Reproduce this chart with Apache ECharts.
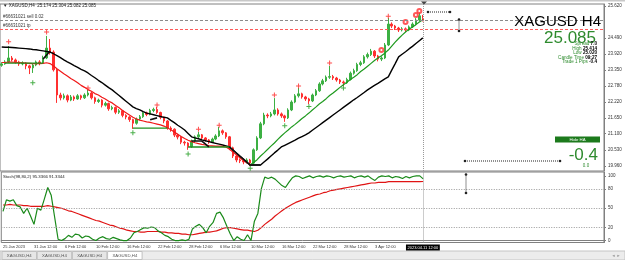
<!DOCTYPE html>
<html>
<head>
<meta charset="utf-8">
<script src="https://cdn.jsdelivr.net/npm/echarts/dist/echarts.min.js"></script>
</head>
<body style="margin:0;background:#fff">
<div id="container" style="width:625px;height:260px;"></div>
<script type="text/javascript">
// Heiken Ashi candles, one row per bar: [open, close, low, high]
var candles = [
 [23.52,23.57,23.47,23.63],[23.57,23.64,23.54,23.70],[23.64,23.78,23.60,24.20],[23.78,23.71,23.66,23.85],
 [23.71,23.64,23.58,23.76],[23.64,23.57,23.50,23.68],[23.57,23.60,23.52,23.66],[23.60,23.50,23.38,23.63],
 [23.50,23.43,23.21,23.54],[23.43,23.53,23.25,23.58],[23.53,23.64,23.49,23.69],[23.64,23.60,23.52,23.70],
 [23.60,23.78,23.57,23.86],[23.78,24.13,23.74,24.56],[24.13,23.99,23.90,24.45],[23.99,23.36,23.30,24.05],
 [23.36,22.47,22.19,23.40],[22.47,22.37,22.28,22.55],[22.37,22.44,22.31,22.52],[22.44,22.29,22.21,22.49],
 [22.29,22.40,22.25,22.47],[22.40,22.33,22.26,22.45],[22.33,22.44,22.30,22.50],[22.44,22.37,22.30,22.48],
 [22.37,22.47,22.33,22.53],[22.47,22.54,22.42,22.65],[22.54,22.37,22.31,22.58],[22.37,22.24,22.16,22.41],
 [22.24,22.29,22.19,22.34],[22.29,22.11,22.03,22.32],[22.11,22.17,22.06,22.23],[22.17,21.98,21.91,22.20],
 [21.98,22.03,21.93,22.09],[22.03,21.86,21.79,22.06],[21.86,21.91,21.80,21.97],[21.91,21.75,21.68,21.94],
 [21.75,21.69,21.61,21.79],[21.69,21.60,21.52,21.72],[21.60,21.47,21.27,21.63],[21.47,21.62,21.42,21.67],
 [21.62,21.70,21.57,21.76],[21.70,21.84,21.66,21.89],[21.84,21.78,21.72,21.88],[21.78,21.92,21.75,21.98],
 [21.92,21.96,21.86,22.02],[21.96,21.85,21.80,22.05],[21.85,21.68,21.61,21.88],[21.68,21.55,21.47,21.71],
 [21.55,21.30,21.24,21.58],[21.30,21.26,21.17,21.36],[21.26,21.05,20.98,21.29],[21.05,20.98,20.90,21.10],
 [20.98,20.80,20.73,21.01],[20.80,20.77,20.68,20.85],[20.77,20.64,20.53,20.80],[20.64,20.84,20.60,20.89],
 [20.84,20.99,20.80,21.04],[20.99,21.06,20.94,21.16],[21.06,20.95,20.89,21.09],[20.95,20.88,20.82,20.98],
 [20.88,20.81,20.74,20.91],[20.81,20.91,20.77,20.96],[20.91,21.02,20.87,21.08],[21.02,21.20,20.98,21.34],
 [21.20,21.13,21.06,21.25],[21.13,20.99,20.92,21.16],[20.99,20.60,20.52,21.02],[20.60,20.31,20.24,20.64],
 [20.31,20.17,20.09,20.34],[20.17,20.14,20.06,20.22],[20.14,20.10,20.02,20.19],[20.10,20.17,20.05,20.23],
 [20.17,20.06,19.96,20.21],[20.06,20.53,20.02,20.58],[20.53,20.95,20.49,21.01],[20.95,21.45,20.91,21.52],
 [21.45,21.76,21.40,21.84],[21.76,21.73,21.65,21.82],[21.73,21.80,21.68,21.87],[21.80,21.94,21.75,22.36],
 [21.94,21.80,21.74,22.00],[21.80,21.73,21.66,21.85],[21.73,21.66,21.52,21.77],[21.66,21.94,21.62,22.00],
 [21.94,22.22,21.90,22.28],[22.22,22.44,22.18,22.50],[22.44,22.51,22.38,22.72],[22.51,22.40,22.34,22.55],
 [22.40,22.33,22.26,22.44],[22.33,22.26,22.15,22.37],[22.26,22.47,22.22,22.52],[22.47,22.62,22.43,22.68],
 [22.62,22.86,22.58,22.92],[22.86,22.97,22.81,23.04],[22.97,23.10,22.93,23.16],[23.10,23.12,23.04,23.50],
 [23.12,23.07,23.00,23.18],[23.07,23.00,22.94,23.11],[23.00,22.93,22.86,23.04],[22.93,22.90,22.79,22.98],
 [22.90,23.02,22.86,23.08],[23.02,23.24,22.98,23.30],[23.24,23.33,23.19,23.40],[23.33,23.55,23.29,23.61],
 [23.55,23.61,23.49,23.68],[23.61,23.82,23.57,23.88],[23.82,23.90,23.76,23.97],[23.90,24.02,23.85,24.10],
 [24.02,23.85,23.78,24.06],[23.85,23.74,23.66,23.89],[23.74,23.78,23.67,23.84],[23.78,24.24,23.74,24.31],
 [24.24,24.98,24.20,25.20],[24.98,24.91,24.84,25.04],[24.91,24.84,24.77,24.95],[24.84,24.77,24.70,24.88],
 [24.77,24.81,24.72,24.87],[24.81,24.77,24.70,24.86],[24.77,24.88,24.73,24.93],[24.88,24.98,24.84,25.04],
 [24.98,25.12,24.94,25.19],[25.12,25.27,25.08,25.40],[25.174,25.085,25.082,25.304]
];

var fastMA = [
 23.62,23.62,23.63,23.63,23.62,23.62,23.61,23.60,23.59,23.58,23.58,23.58,23.59,
 23.61,23.58,23.50,23.40,
 23.31,23.22,23.14,23.05,22.98,22.90,22.81,22.74,22.66,
 22.60,22.52,22.47,22.39,22.33,22.25,22.19,22.10,22.02,21.92,21.84,
 21.76,21.68,21.62,21.58,21.55,21.52,21.50,21.47,21.44,
 21.41,21.37,21.31,21.24,21.16,21.08,21.00,20.93,20.87,
 20.82,20.78,20.75,20.72,20.70,20.68,20.67,20.66,20.66,20.65,20.63,
 20.55,20.45,20.35,20.25,20.15,20.07,20.00,
 20.08,20.18,20.31,20.42,20.54,20.66,20.77,20.90,21.02,21.13,
 21.23,21.34,21.43,21.53,21.64,21.73,21.83,21.94,
 22.04,22.15,22.24,22.34,22.45,22.54,22.64,22.74,22.83,
 22.92,23.02,23.10,23.19,23.30,23.39,23.49,23.59,23.69,23.78,
 23.86,23.95,24.06,
 24.20,24.34,24.47,24.59,24.70,24.80,24.88,24.96,25.05,25.13
];
var fastTurn = 72; // bar where the fast MA turns from falling (red) to rising (green)

var slowMA = [
 24.17,24.16,24.16,24.15,24.14,24.13,24.12,24.11,24.10,24.08,24.07,24.05,24.03,
 24.01,23.99,23.93,23.86,23.79,23.71,23.64,
 23.58,23.51,23.45,23.38,23.32,23.25,
 23.16,23.08,22.99,22.91,22.82,22.73,22.65,
 22.55,22.45,22.35,22.25,22.15,22.05,
 21.99,21.94,21.88,21.83,
 21.80,21.77,21.74,21.71,21.68,21.66,
 21.57,21.49,21.40,21.32,21.23,
 21.11,20.99,20.95,20.92,20.88,
 20.85,20.82,20.79,20.76,20.73,20.70,20.67,20.63,
 20.52,20.41,20.30,20.20,20.09,19.99,
 19.99,19.99,19.99,
 20.10,20.20,20.31,20.42,20.52,20.63,
 20.69,20.75,20.81,20.87,20.94,21.00,21.06,21.13,
 21.22,21.31,21.40,21.49,21.58,21.67,21.76,21.85,21.94,
 22.03,22.12,22.21,22.30,22.38,22.47,22.56,22.65,
 22.73,22.81,22.88,22.96,23.04,23.11,
 23.35,23.58,23.82,
 23.91,24.00,24.10,24.19,24.29,24.39,24.49
];

var fractalUp = [[2,24.35],[13,24.70],[25,22.72],[45,22.12],[57,21.26],[63,21.40],[79,22.47],[86,22.79],[95,23.60],[112,25.26]];
var fractalDown = [[9,22.90],[38,21.13],[54,20.38],[72,19.88],[82,21.38],[89,22.06],[99,22.72]];
var sellSignals = [[110,24.06],[117,25.05],[120,25.30],[121,25.44]];
var supportSegs = [
 [[1,23.60],[12,23.60]],
 [[38,21.30],[48,21.30]],
 [[54,20.63],[66,20.63]]
];
var zigzagSegs = [
 [[12,23.74],[14,24.03]],
 [[43,21.59],[45,21.66]],
 [[55,20.84],[58,20.84],[60,20.63]],
 [[66,20.63],[72,19.99],[75,19.99]]
];

var stochK = [
 45,63,61,63,54,52,42,50,38,25,
 50,47,64,82,70,36,2,0,3,8,
 5,10,9,4,7,6,2,0,4,6,
 3,2,5,3,1,0,0,4,12,14,
 17,20,19,21,20,15,12,8,6,2,
 0,0,1,0,2,18,22,25,20,12,
 22,28,42,44,35,22,10,0,6,2,
 0,9,0,30,42,80,98,96,98,95,
 90,85,82,90,97,100,99,96,98,100,
 97,99,100,98,100,99,97,99,100,98,
 99,100,97,99,100,98,100,96,93,98,
 100,99,100,97,99,98,96,99,97,99,
 100,100,95.34
];
var stochD = [
 55,55,56,55,55,55,54,54,53,53,53,53,53,54,53,52,
 51,50,48,46,45,43,41,39,37,35,33,31,30,28,26,
 24,23,21,19,18,16,15,14,14,13,13,14,14,14,
 14,13,13,12,12,11,11,10,10,9,9,10,
 11,12,13,13,14,15,17,19,20,20,
 19,18,17,16,16,15,14,16,
 20,25,29,33,38,42,46,50,53,56,59,
 61,63,65,67,69,71,72,74,75,77,78,79,
 80,81,82,83,84,85,86,87,88,89,89,90,
 90,90,91,91,91,91,91,91,91,91,91,91,91.33
];

var priceTicks = [19.960,20.530,21.100,21.650,22.220,22.780,23.350,23.920,24.490,25.620];
var stochTicks = [0,20,50,80,100];
var stochLevels = [20,50,80];
var dateTicks = ['25 Jan 2023','31 Jan 12:00','6 Feb 12:00','10 Feb 12:00','16 Feb 12:00','22 Feb 12:00',
 '28 Feb 12:00','6 Mar 12:00','10 Mar 12:00','16 Mar 12:00','22 Mar 12:00','28 Mar 12:00','3 Apr 12:00'];
var cursorLabel = '2023.04.11 12:00';
var sellPrice = 25.107, tpPrice = 24.789, bidPrice = 25.085;

var totalBars = 175;   // bars plus empty shift area on the right
var tickStep = 9;
var cursorIndex = 117;
var lastIndex = candles.length - 1;

var cats = [];
for (var i = 0; i < totalBars; i++) cats.push(String(i));

var FONT = 'Liberation Sans';
var dom = document.getElementById('container');
var myChart = echarts.init(dom, null, {renderer: 'canvas'});

var fmaDown = fastMA.map(function (v, i) { return i <= fastTurn ? v : null; });
var fmaUp = fastMA.map(function (v, i) { return i >= fastTurn ? v : null; });

var series = [
  {
    type: 'candlestick', xAxisIndex: 0, yAxisIndex: 0, data: candles, barWidth: 2,
    itemStyle: {color: '#3cb043', color0: '#ff3030', borderColor: '#3cb043', borderColor0: '#ff3030', borderWidth: 1},
    markLine: {
      silent: true, symbol: 'none', animation: false,
      data: [
        {yAxis: sellPrice, lineStyle: {color: '#8a8a8a', type: [3, 2], width: 1},
         label: {show: true, formatter: '#66631021 sell 0.02', position: 'insideStartTop', distance: [3, 1], fontSize: 4.5, fontFamily: FONT, color: '#333'}},
        {yAxis: tpPrice, lineStyle: {color: '#ff5a5a', type: [3, 2], width: 1},
         label: {show: true, formatter: '#66631021 tp', position: 'insideStartTop', distance: [3, 1], fontSize: 4.5, fontFamily: FONT, color: '#333'}},
        {yAxis: bidPrice, lineStyle: {opacity: 0},
         label: {show: true, formatter: bidPrice.toFixed(3), position: 'end', distance: 1, fontSize: 4.5, fontFamily: FONT,
                 color: '#fff', backgroundColor: '#000', padding: [1.5, 1.5]}},
        {xAxis: String(lastIndex), lineStyle: {color: '#999', type: [1, 1], width: 1}, label: {show: false}}
      ]
    }
  },
  {type: 'line', xAxisIndex: 0, yAxisIndex: 0, data: slowMA, showSymbol: false, lineStyle: {color: '#000', width: 1.4}, z: 3},
  {type: 'line', xAxisIndex: 0, yAxisIndex: 0, data: fmaDown, showSymbol: false, lineStyle: {color: '#f01818', width: 1.2}, z: 3},
  {type: 'line', xAxisIndex: 0, yAxisIndex: 0, data: fmaUp, showSymbol: false, lineStyle: {color: '#1f9a1f', width: 1.2}, z: 3},
  {type: 'scatter', xAxisIndex: 0, yAxisIndex: 0, data: fractalUp, symbol: 'path://M2,0H3V2H5V3H3V5H2V3H0V2H2Z', symbolSize: 5,
   itemStyle: {color: '#ff2020'}, z: 4},
  {type: 'scatter', xAxisIndex: 0, yAxisIndex: 0, data: fractalDown, symbol: 'path://M2,0H3V2H5V3H3V5H2V3H0V2H2Z', symbolSize: 5,
   itemStyle: {color: '#1a9a1a'}, z: 4},
  {type: 'scatter', xAxisIndex: 0, yAxisIndex: 0, data: sellSignals, symbol: 'emptyCircle', symbolSize: 4,
   itemStyle: {color: '#ff3030', borderWidth: 1}, z: 4}
];

supportSegs.forEach(function (seg) {
  series.push({type: 'line', xAxisIndex: 0, yAxisIndex: 0, data: seg, showSymbol: false,
    lineStyle: {color: '#1f8f1f', width: 1.3}, z: 3});
});
zigzagSegs.forEach(function (seg) {
  series.push({type: 'line', xAxisIndex: 0, yAxisIndex: 0, data: seg, symbol: 'circle', symbolSize: 4, showSymbol: true,
    lineStyle: {color: '#111', width: 1.6}, itemStyle: {color: '#4a4', borderColor: '#000', borderWidth: 1}, z: 5});
});

series.push({
  type: 'line', xAxisIndex: 1, yAxisIndex: 1, data: stochD, showSymbol: false, lineStyle: {color: '#e01414', width: 1.2},
  markLine: {
    silent: true, symbol: 'none', animation: false, label: {show: false},
    data: stochLevels.map(function (v) { return {yAxis: v, lineStyle: {color: '#999', type: [1, 1.5], width: 1}}; })
      .concat([{xAxis: String(lastIndex), lineStyle: {color: '#999', type: [1, 1], width: 1}}])
  }
});
series.push({type: 'line', xAxisIndex: 1, yAxisIndex: 1, data: stochK, showSymbol: false, lineStyle: {color: '#1a8a1a', width: 1.2}, z: 3});

function txt(x, y, text, font, fill, align) {
  return {type: 'text', x: x, y: y, silent: true, z: 100,
    style: {text: text, font: font, fill: fill || '#000', textAlign: align || 'left', textVerticalAlign: 'middle'}};
}
function info(y, label, value) {
  return {type: 'text', x: 597, y: y, silent: true, z: 100,
    style: {text: '{g|' + label + ' }{b|' + value + '}', textAlign: 'right', textVerticalAlign: 'middle',
      rich: {g: {fill: '#2e8b2e', font: '4.6px "' + FONT + '"'}, b: {fill: '#000', font: 'bold 4.6px "' + FONT + '"'}}}};
}
function dotted(points) {
  return {type: 'polyline', silent: true, z: 100, shape: {points: points},
    style: {stroke: '#222', lineWidth: 1, lineDash: [1, 1], fill: null}};
}
function dot(x, y) {
  return {type: 'circle', silent: true, z: 100, shape: {cx: x, cy: y, r: 1.3}, style: {fill: '#222'}};
}

var graphics = [
  {type: 'rect', shape: {x: 0, y: 0, width: 625, height: 1.5}, style: {fill: '#c8c8c8'}, silent: true},
  {type: 'polygon', shape: {points: [[421, 1.5], [427, 1.5], [424, 4.5]]}, style: {fill: '#444'}, silent: true, z: 100},
  txt(3, 5.5, '\u25BC XAGUSD,H4  25.174 25.304 25.082 25.085', '4.5px "' + FONT + '"', '#222'),
  txt(3, 177, 'Stoch(98,80,2) 95.3366 91.3344', '4.3px "' + FONT + '"', '#222'),
  txt(601, 21.5, 'XAGUSD H4', '15px "' + FONT + '"', '#000', 'right'),
  txt(596, 38.5, '25.085', '17px "' + FONT + '"', '#2e8b2e', 'right'),
  info(43.5, 'Spread', '7.0'),
  info(48.5, 'High', '25.414'),
  info(53, 'Low', '25.020'),
  info(57.5, 'Candle Time', '09:27'),
  info(62, 'Trade 1 Pips', '-0.4'),
  {type: 'rect', shape: {x: 555, y: 136.5, width: 45, height: 6}, style: {fill: '#1c7a1c'}, silent: true, z: 100},
  txt(577.5, 139.6, 'Hide HA', '4.3px "' + FONT + '"', '#fff', 'center'),
  txt(598, 155.5, '-0.4', '17px "' + FONT + '"', '#2e8b2e', 'right'),
  txt(586, 165.5, '0.0', '4.5px "' + FONT + '"', '#2e8b2e', 'center'),
  dotted([[428, 12], [450, 12]]), dot(428, 12), dot(450, 12),
  dotted([[459, 19.5], [459, 31]]), dot(459, 19.5), dot(459, 31),
  dotted([[465, 161], [560, 161]]), dot(465, 161), dot(560, 161),
  dotted([[466, 174.5], [466, 193]]), dot(466, 174.5), dot(466, 193),
  {type: 'rect', shape: {x: 0, y: 251, width: 625, height: 9}, style: {fill: '#ececec', stroke: '#c4c4c4', lineWidth: 1}, silent: true}
];
['XAGUSD,H4', 'XAGUSD,H4', 'XAGUSD,H4', 'XAGUSD,H4'].forEach(function (name, k) {
  var x0 = 2 + k * 35.2;
  graphics.push({type: 'rect', shape: {x: x0, y: 251.5, width: 34.5, height: 8}, silent: true, z: 101,
    style: {fill: k === 3 ? '#fff' : '#e6e6e6', stroke: '#c0c0c0', lineWidth: 1}});
  graphics.push(txt(x0 + 17.25, 255.6, name, '4.3px "' + FONT + '"', '#555', 'center'));
  graphics[graphics.length - 1].z = 102;
});
graphics.push(txt(616, 256, '\u25C4 \u25BA', '4px "' + FONT + '"', '#999', 'center'));

var option = {
  animation: false,
  backgroundColor: '#fff',
  textStyle: {fontFamily: FONT},
  grid: [
    {left: 0, top: 4, width: 604, height: 167, show: true, borderColor: '#808080', borderWidth: 1, backgroundColor: '#fff'},
    {left: 0, top: 172, width: 604, height: 70.5, show: true, borderColor: '#808080', borderWidth: 1, backgroundColor: '#fff'}
  ],
  xAxis: [
    {type: 'category', gridIndex: 0, data: cats, boundaryGap: true,
     axisLine: {show: false}, axisTick: {show: false}, axisLabel: {show: false}, splitLine: {show: false}},
    {type: 'category', gridIndex: 1, data: cats, boundaryGap: true,
     axisLine: {show: true, lineStyle: {color: '#808080'}}, axisTick: {show: false}, splitLine: {show: false},
     axisLabel: {
       show: true, fontSize: 4, fontFamily: FONT, color: '#333', align: 'left', margin: 2,
       interval: function (idx) {
         return idx === cursorIndex || (idx % tickStep === 0 && idx / tickStep < dateTicks.length);
       },
       formatter: function (val, idx) {
         if (idx === cursorIndex) return '{cur|' + cursorLabel + '}';
         return dateTicks[idx / tickStep] || '';
       },
       rich: {cur: {backgroundColor: '#000', color: '#fff', fontSize: 4, fontFamily: FONT, padding: [1, 1.5]}}
     }}
  ],
  yAxis: [
    {type: 'value', gridIndex: 0, position: 'right', min: 19.78, max: 25.69, scale: true,
     axisLine: {show: true, lineStyle: {color: '#808080'}},
     axisTick: {show: true, length: 2, lineStyle: {color: '#808080'}, customValues: priceTicks},
     splitLine: {show: false},
     axisLabel: {show: true, customValues: priceTicks, fontSize: 4.5, fontFamily: FONT, color: '#333', margin: 4,
       formatter: function (v) { return v.toFixed(3); }}},
    {type: 'value', gridIndex: 1, position: 'right', min: -3, max: 106,
     axisLine: {show: true, lineStyle: {color: '#808080'}},
     axisTick: {show: true, length: 2, lineStyle: {color: '#808080'}, customValues: stochTicks},
     splitLine: {show: false},
     axisLabel: {show: true, customValues: stochTicks, fontSize: 4.5, fontFamily: FONT, color: '#333', margin: 4}}
  ],
  series: series,
  graphic: graphics
};

myChart.setOption(option, true);
</script>
</body>
</html>
